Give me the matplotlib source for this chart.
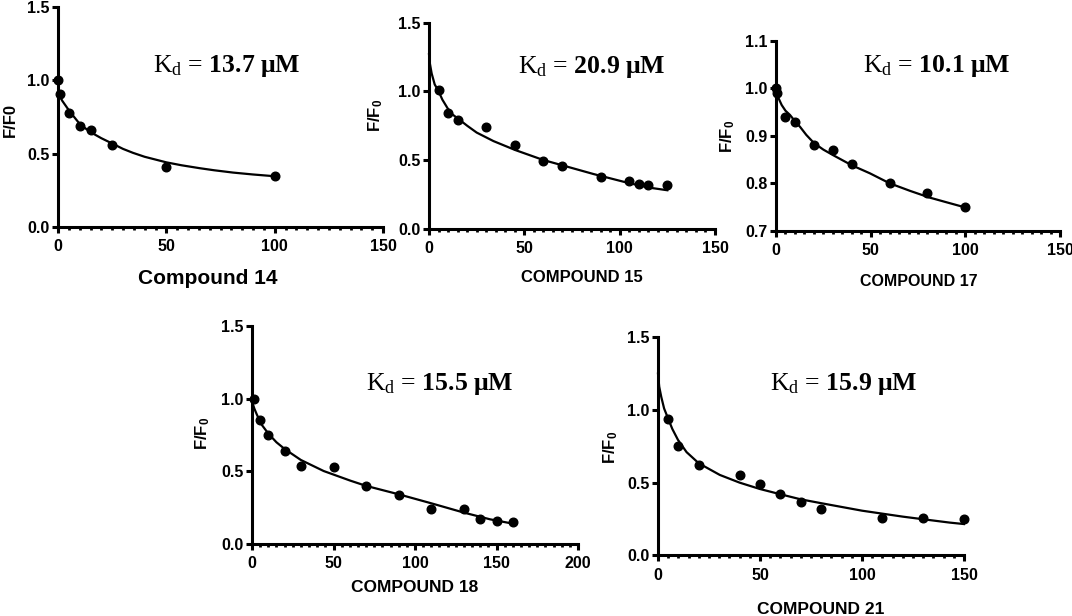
import matplotlib
matplotlib.use("Agg")
import matplotlib.pyplot as plt
from matplotlib.ticker import MultipleLocator, FormatStrFormatter

plt.rcParams['mathtext.fontset'] = 'custom'
plt.rcParams['mathtext.rm'] = 'Liberation Serif'
plt.rcParams['mathtext.it'] = 'Liberation Serif:italic'
plt.rcParams['mathtext.bf'] = 'Liberation Serif:bold'
plt.rcParams['mathtext.sf'] = 'Liberation Sans:bold'

# ---------------- data ----------------
c14_x = [0, 1, 5, 10, 15, 25, 50, 100]
c14_y = [1.00, 0.91, 0.78, 0.69, 0.66, 0.56, 0.41, 0.345]
c14_fit_x = [0, 2, 5.4, 10, 14.6, 20, 25.4, 30, 34.6, 40, 50, 57, 65.4, 72, 80.8, 90, 100]
c14_fit_y = [0.915, 0.86, 0.788, 0.703, 0.65, 0.605, 0.566, 0.532, 0.505, 0.478, 0.44, 0.42, 0.40, 0.386, 0.37, 0.357, 0.345]

c15_x = [5, 10, 15, 30, 45, 60, 70, 90, 105, 110, 115, 125]
c15_y = [1.01, 0.84, 0.795, 0.74, 0.61, 0.49, 0.46, 0.38, 0.347, 0.328, 0.318, 0.315]
c15_fit_x = [0, 0.5, 1.4, 3, 4.9, 7, 9.8, 12.5, 16.3, 20, 25, 33.8, 45.2, 60, 70.6, 86.3, 104, 116, 125]
c15_fit_y = [1.27, 1.20, 1.13, 1.05, 1.005, 0.94, 0.876, 0.83, 0.79, 0.75, 0.70, 0.638, 0.573, 0.50, 0.459, 0.398, 0.335, 0.298, 0.28]

c17_x = [0, 0.5, 5, 10, 20, 30, 40, 60, 80, 100]
c17_y = [1.00, 0.99, 0.94, 0.93, 0.88, 0.87, 0.84, 0.80, 0.78, 0.75]
c17_fit_x = [0, 1.5, 3, 5, 7.4, 10, 12.7, 16, 20, 25, 30.3, 40, 49.6, 60, 70.8, 81, 90, 100]
c17_fit_y = [0.995, 0.978, 0.965, 0.953, 0.944, 0.931, 0.919, 0.902, 0.885, 0.871, 0.859, 0.838, 0.821, 0.80, 0.784, 0.77, 0.76, 0.749]

c18_x = [1, 5, 10, 20, 30, 50, 70, 90, 110, 130, 140, 150, 160]
c18_y = [1.00, 0.85, 0.75, 0.64, 0.54, 0.53, 0.40, 0.34, 0.24, 0.24, 0.17, 0.16, 0.15]
c18_fit_x = [0, 1.5, 3, 6, 10, 15, 20, 30, 44, 60.3, 70, 90, 110, 130, 146, 160]
c18_fit_y = [0.98, 0.93, 0.89, 0.82, 0.76, 0.70, 0.654, 0.578, 0.502, 0.436, 0.40, 0.342, 0.28, 0.216, 0.17, 0.14]

c21_x = [5, 10, 20, 40, 50, 60, 70, 80, 110, 130, 150]
c21_y = [0.94, 0.75, 0.62, 0.55, 0.49, 0.42, 0.37, 0.32, 0.26, 0.26, 0.25]
c21_fit_x = [0, 0.6, 1.6, 3, 4.9, 7, 9.8, 14, 20, 30.3, 40, 50, 60, 70, 80.2, 100, 120, 130, 143, 150]
c21_fit_y = [1.25, 1.16, 1.09, 1.01, 0.943, 0.87, 0.794, 0.71, 0.633, 0.553, 0.50, 0.456, 0.42, 0.385, 0.358, 0.307, 0.266, 0.248, 0.225, 0.215]

kd_values = ["13.7", "20.9", "10.1", "15.5", "15.9"]
x_labels = ["Compound 14", "COMPOUND 15", "COMPOUND 17", "COMPOUND 18", "COMPOUND 21"]
y_labels = ["F/F0", r"$\mathsf{F/F_0}$", r"$\mathsf{F/F_0}$", r"$\mathsf{F/F_0}$", r"$\mathsf{F/F_0}$"]

# ---------------- layout ----------------
W, H = 1072, 616
fig = plt.figure(figsize=(W / 100, H / 100), dpi=100)
fig.patch.set_facecolor('white')

def px_axes(left, right, top, bottom):
    return fig.add_axes([left / W, 1 - bottom / H, (right - left) / W, (bottom - top) / H])

panels = [
    dict(box=(58, 383, 7.3, 226.7), xlim=(0, 150), ylim=(0, 1.5), ystep=0.5, xs=c14_x, ys=c14_y,
         fx=c14_fit_x, fy=c14_fit_y, kd_pos=(153, 72), xlab=(208, 279), xlab_fs=15, ylab=(10, 120)),
    dict(box=(429, 715, 22.7, 228.7), xlim=(0, 150), ylim=(0, 1.5), ystep=0.5, xs=c15_x, ys=c15_y,
         fx=c15_fit_x, fy=c15_fit_y, kd_pos=(518, 73), xlab=(582, 277), xlab_fs=12, ylab=(376, 115)),
    dict(box=(776, 1060, 41, 230.7), xlim=(0, 150), ylim=(0.7, 1.1), ystep=0.1, xs=c17_x, ys=c17_y,
         fx=c17_fit_x, fy=c17_fit_y, kd_pos=(863, 72), xlab=(919, 281), xlab_fs=11.5, ylab=(728, 136)),
    dict(box=(252, 578, 326, 544), xlim=(0, 200), ylim=(0, 1.5), ystep=0.5, xs=c18_x, ys=c18_y,
         fx=c18_fit_x, fy=c18_fit_y, kd_pos=(366, 390), xlab=(415, 587), xlab_fs=12.5, ylab=(203, 433)),
    dict(box=(658, 964, 337.3, 555.3), xlim=(0, 150), ylim=(0, 1.5), ystep=0.5, xs=c21_x, ys=c21_y,
         fx=c21_fit_x, fy=c21_fit_y, kd_pos=(770, 390), xlab=(821, 609), xlab_fs=12.5, ylab=(611, 447)),
]

for i, p in enumerate(panels):
    l, r, t, b = p['box']
    ax = px_axes(l, r, t, b)
    ax.set_xlim(*p['xlim'])
    ax.set_ylim(*p['ylim'])
    for s in ('top', 'right'):
        ax.spines[s].set_visible(False)
    for s in ('left', 'bottom'):
        ax.spines[s].set_linewidth(2.2)
        ax.spines[s].set_capstyle('projecting')
    ax.xaxis.set_major_locator(MultipleLocator(50))
    ax.xaxis.set_minor_locator(MultipleLocator(5))
    ax.yaxis.set_major_locator(MultipleLocator(p['ystep']))
    ax.yaxis.set_major_formatter(FormatStrFormatter('%.1f'))
    ax.tick_params(axis='both', which='major', direction='out', length=4, width=2.2,
                   labelsize=11.5)
    ax.tick_params(axis='x', which='major', pad=5)
    ax.tick_params(axis='y', which='major', pad=2)
    ax.tick_params(axis='x', which='minor', direction='out', length=2.5, width=2)
    for lab in ax.get_xticklabels() + ax.get_yticklabels():
        lab.set_fontfamily('Liberation Sans')
        lab.set_fontweight('bold')
    ax.plot(p['fx'], p['fy'], color='black', lw=1.6, clip_on=False, zorder=3)
    ax.plot(p['xs'], p['ys'], 'o', color='black', ms=6.2, clip_on=False, zorder=4)
    ax.set_facecolor('none')

    # Kd annotation
    kx, ky = p['kd_pos']
    fig.text(kx / W, 1 - ky / H, r"$\mathrm{K_d}$ = $\mathbf{" + kd_values[i] + r"\ μM}$",
             fontsize=18.5, family='Liberation Serif', ha='left', va='baseline')

    # axis labels
    xx, xy = p['xlab']
    fig.text(xx / W, 1 - xy / H, x_labels[i], fontsize=p['xlab_fs'], family='Liberation Sans',
             fontweight='bold', ha='center', va='center')
    yx, yy = p['ylab']
    fig.text(yx / W, 1 - yy / H, y_labels[i], fontsize=12,
             family='Liberation Sans', fontweight='bold', rotation=90, ha='center', va='center')

fig.savefig('out.png', dpi=100, facecolor='white')
